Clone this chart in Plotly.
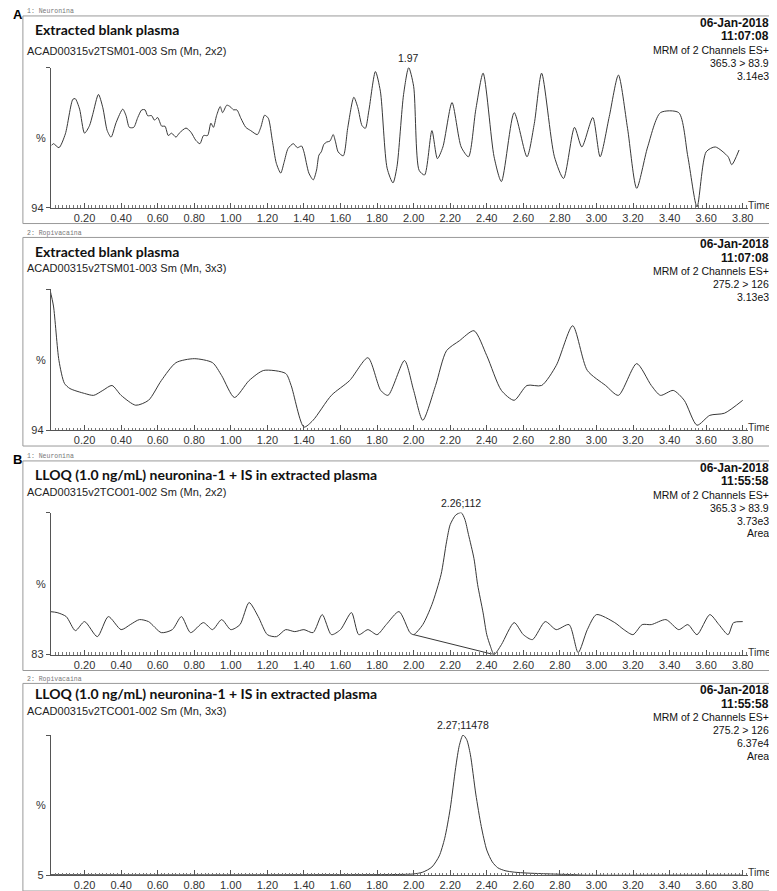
import plotly.graph_objects as go

# ---- data (time in min, intensity in % of full scale) ----
t1 = [0.02, 0.03, 0.06, 0.095, 0.136, 0.149, 0.173, 0.20, 0.227, 0.245, 0.276, 0.30, 0.324, 0.345,
      0.373, 0.409, 0.427, 0.445, 0.469, 0.491, 0.513, 0.531, 0.545, 0.567, 0.582, 0.60, 0.622,
      0.64, 0.658, 0.676, 0.70, 0.718, 0.755, 0.782, 0.809, 0.831, 0.851, 0.873, 0.891, 0.905,
      0.922, 0.942, 0.955, 0.978, 0.996, 1.015, 1.033, 1.055, 1.082, 1.109, 1.145, 1.164, 1.185,
      1.205, 1.227, 1.249, 1.273, 1.291, 1.313, 1.342, 1.364, 1.387, 1.40, 1.427, 1.451, 1.469,
      1.482, 1.495, 1.509, 1.524, 1.542, 1.56, 1.573, 1.587, 1.615, 1.64, 1.673, 1.695, 1.718,
      1.736, 1.755, 1.791, 1.818, 1.855, 1.887, 1.909, 1.945, 1.973, 2.00, 2.03, 2.06, 2.10, 2.13,
      2.16, 2.21, 2.26, 2.30, 2.34, 2.38, 2.44, 2.48, 2.55, 2.62, 2.66, 2.70, 2.77, 2.82, 2.88,
      2.92, 2.98, 3.02, 3.07, 3.12, 3.17, 3.22, 3.28, 3.35, 3.45, 3.50, 3.55, 3.60, 3.65, 3.72,
      3.74, 3.78]
i1 = [96.67, 96.74, 96.57, 97.16, 98.64, 98.67, 98.22, 97.19, 97.51, 98.00, 98.85, 98.28, 97.30, 97.02,
      97.65, 98.22, 97.94, 97.44, 97.44, 97.86, 98.19, 98.19, 97.94, 97.94, 97.75, 97.86, 97.49,
      97.49, 97.09, 97.19, 97.02, 97.19, 97.41, 97.23, 96.88, 96.74, 97.09, 97.09, 97.62, 97.44,
      97.94, 98.33, 98.07, 98.39, 98.33, 98.19, 98.19, 97.83, 97.44, 97.30, 97.13, 97.44, 97.96,
      97.83, 96.88, 95.90, 95.48, 95.93, 96.53, 96.74, 96.57, 96.64, 96.39, 95.48, 95.19, 95.61,
      96.25, 96.39, 96.71, 96.81, 96.85, 97.13, 96.81, 96.39, 96.22, 97.44, 98.73, 98.28, 97.51,
      97.40, 98.15, 99.83, 98.99, 95.69, 95.06, 95.76, 98.85, 100.00, 99.20, 95.60, 95.40, 97.30,
      96.10, 96.60, 98.50, 96.60, 96.18, 98.20, 99.76, 96.18, 95.12, 98.07, 96.18, 97.60, 99.76,
      96.18, 95.25, 97.44, 96.60, 97.86, 96.18, 97.90, 99.68, 97.40, 94.83, 96.60, 98.07, 98.07,
      96.18, 94.03, 96.39, 96.60, 96.18, 95.84, 96.47]

t2 = [0.01, 0.03, 0.06, 0.09, 0.12, 0.20, 0.25, 0.30, 0.35, 0.40, 0.48, 0.55, 0.62, 0.70, 0.80,
      0.90, 0.95, 1.02, 1.10, 1.18, 1.30, 1.33, 1.40, 1.45, 1.55, 1.65, 1.75, 1.82, 1.86, 1.95,
      2.00, 2.05, 2.12, 2.18, 2.25, 2.33, 2.40, 2.48, 2.55, 2.62, 2.70, 2.78, 2.87, 2.95, 3.05,
      3.12, 3.22, 3.30, 3.35, 3.42, 3.48, 3.55, 3.62, 3.70, 3.80]
i2 = [100.00, 99.28, 96.96, 95.99, 95.77, 95.56, 95.48, 95.69, 95.90, 95.48, 95.06, 95.27, 96.11,
      96.87, 97.04, 96.87, 96.32, 95.39, 96.11, 96.54, 96.41, 95.90, 94.13, 94.42, 95.48, 96.11,
      97.08, 95.69, 95.48, 96.96, 95.69, 94.42, 95.90, 97.38, 97.80, 98.23, 97.17, 95.69, 95.27,
      95.90, 95.90, 96.75, 98.44, 96.54, 95.90, 95.48, 96.83, 95.90, 95.48, 95.69, 95.27, 94.21,
      94.63, 94.72, 95.27]

t3 = [0.01, 0.05, 0.10, 0.15, 0.20, 0.27, 0.33, 0.40, 0.45, 0.50, 0.55, 0.62, 0.68, 0.73, 0.78,
      0.85, 0.90, 0.95, 1.00, 1.05, 1.10, 1.15, 1.20, 1.25, 1.30, 1.35, 1.40, 1.45, 1.50, 1.55,
      1.60, 1.66, 1.70, 1.75, 1.80, 1.85, 1.92, 1.98, 2.00, 2.05, 2.10, 2.15, 2.18, 2.20, 2.23,
      2.26, 2.28, 2.30, 2.33, 2.35, 2.38, 2.40, 2.42, 2.44, 2.48, 2.55, 2.60, 2.65, 2.72, 2.78,
      2.85, 2.90, 2.95, 3.00, 3.10, 3.15, 3.20, 3.25, 3.30, 3.38, 3.45, 3.50, 3.55, 3.62, 3.67,
      3.72, 3.75, 3.80]
i3 = [88.15, 88.03, 87.55, 85.87, 86.95, 85.15, 87.55, 85.99, 86.59, 87.19, 86.95, 85.63, 85.99,
      87.55, 85.63, 86.83, 85.99, 87.19, 85.99, 86.59, 89.23, 87.55, 85.39, 85.15, 85.99, 85.75,
      85.99, 85.63, 87.79, 85.39, 85.99, 88.03, 85.39, 85.99, 85.39, 86.59, 88.15, 85.63, 85.39,
      86.59, 88.99, 92.58, 96.50, 98.56, 99.70, 100.00, 99.20, 97.37, 94.50, 91.38, 88.00, 85.39,
      84.00, 83.00, 84.19, 86.83, 85.39, 84.80, 86.95, 85.99, 86.59, 83.24, 85.99, 87.79, 86.83,
      85.99, 85.39, 86.59, 86.59, 87.19, 85.99, 86.59, 85.39, 87.79, 86.59, 85.39, 86.83, 86.95]
base3_t = [2.00, 2.44]
base3_i = [85.39, 83.00]

t4 = [0.01, 0.50, 1.00, 1.50, 1.90, 2.00, 2.05, 2.10, 2.14, 2.17, 2.20, 2.23, 2.25, 2.27, 2.29,
      2.31, 2.34, 2.37, 2.40, 2.43, 2.46, 2.50, 2.55, 2.62, 2.70, 2.80, 2.88, 2.92, 3.40, 3.80]
i4 = [5.3, 5.2, 5.2, 5.3, 5.4, 5.8, 7.0, 10.5, 18.0, 30.0, 50.0, 78.0, 93.0, 100.0, 97.0,
      87.0, 60.0, 38.0, 22.0, 14.0, 10.0, 8.0, 7.0, 6.4, 6.0, 5.6, 5.3, 5.0, 5.0, 5.0]

channels = ["1: Neuronina", "2: Ropivacaina", "1: Neuronina", "2: Ropivacaina"]
titles = ["Extracted blank plasma", "Extracted blank plasma",
          "LLOQ (1.0 ng/mL) neuronina-1 + IS in extracted plasma",
          "LLOQ (1.0 ng/mL) neuronina-1 + IS in extracted plasma"]
samples = ["ACAD00315v2TSM01-003 Sm (Mn, 2x2)", "ACAD00315v2TSM01-003 Sm (Mn, 3x3)",
           "ACAD00315v2TCO01-002 Sm (Mn, 2x2)", "ACAD00315v2TCO01-002 Sm (Mn, 3x3)"]
dates = ["06-Jan-2018"] * 4
times = ["11:07:08", "11:07:08", "11:55:58", "11:55:58"]
transitions = ["365.3 > 83.9", "275.2 > 126", "365.3 > 83.9", "275.2 > 126"]
scales = ["3.14e3", "3.13e3", "3.73e3", "6.37e4"]
extra = ["", "", "Area", "Area"]
y_offsets = [94, 94, 83, 5]
peak_labels = ["1.97", "0.01", "2.26;112", "2.27;11478"]
peak_times = [1.97, 0.01, 2.26, 2.27]
panel_letters = {0: "A", 2: "B"}

series = [(t1, i1), (t2, i2), (t3, i3), (t4, i4)]

W, H = 777, 891
box_top = [8, 231, 456, 680]
box_bot = [217, 441, 667, 889]
X0, X1 = 43, 745


def py(p):
    return 1 - p / H


fig = go.Figure()
shapes = []
ann = []
font_sans = "Liberation Sans, Arial, sans-serif"
trace_col = "#383838"

for k in range(4):
    n = "" if k == 0 else str(k + 1)
    ax_top = box_top[k] + 52
    ax_bot = box_bot[k] - 16
    t, v = series[k]
    fig.add_trace(go.Scatter(x=t, y=v, mode="lines",
                             line=dict(color=trace_col, width=1, shape="spline", smoothing=0.7),
                             xaxis="x" + n, yaxis="y" + n, showlegend=False, hoverinfo="skip"))
    if k == 2:
        fig.add_trace(go.Scatter(x=base3_t, y=base3_i, mode="lines", line=dict(color=trace_col, width=1),
                                 xaxis="x3", yaxis="y3", showlegend=False, hoverinfo="skip"))
    fig.layout["xaxis" + n] = dict(
        domain=[X0 / W, X1 / W], anchor="y" + n, range=[0.015, 3.83],
        showline=True, linecolor="#555", linewidth=1, showgrid=False, zeroline=False,
        ticks="inside", ticklen=5, tickcolor="#555", tick0=0, dtick=0.2, tickformat=".2f",
        tickfont=dict(family=font_sans, size=11, color="#333"),
        minor=dict(ticks="inside", ticklen=2.5, dtick=0.02, tick0=0, tickcolor="#777"),
    )
    fig.layout["yaxis" + n] = dict(
        domain=[py(ax_bot), py(ax_top)], anchor="x" + n, range=[y_offsets[k], 100],
        showline=True, linecolor="#555", linewidth=1, showgrid=False, zeroline=False,
        ticks="outside", ticklen=4, tickcolor="#555",
        tickvals=[y_offsets[k], 100], ticktext=[str(y_offsets[k]), ""],
        tickfont=dict(family=font_sans, size=11, color="#333"),
    )
    # panel frame
    shapes.append(dict(type="rect", xref="paper", yref="paper", x0=15 / W, x1=775 / W, layer="below",
                       y0=py(box_bot[k]), y1=py(box_top[k]), line=dict(color="#999", width=1)))
    # channel name
    ann.append(dict(text=channels[k], x=17 / W, y=py(box_top[k] - 4), xref="paper", yref="paper",
                    xanchor="left", yanchor="middle", showarrow=False,
                    font=dict(family="Liberation Mono, monospace", size=6.5, color="#777")))
    ann.append(dict(text="<b>" + titles[k] + "</b>", x=25 / W, y=py([22, 245, 470, 690][k]),
                    xref="paper", yref="paper", xanchor="left", yanchor="middle", showarrow=False,
                    font=dict(family="Lato, sans-serif", size=14, color="#111")))
    ann.append(dict(text=samples[k], x=17 / W, y=py([43, 262, 487, 708][k]), xref="paper", yref="paper",
                    xanchor="left", yanchor="middle", showarrow=False,
                    font=dict(family=font_sans, size=11, color="#222")))
    right_lines = [("<b>" + dates[k] + "</b>", 12), ("<b>" + times[k] + "</b>", 12),
                   ("MRM of 2 Channels ES+", 10.5), (transitions[k], 10.5), (scales[k], 10.5)]
    if extra[k]:
        right_lines.append((extra[k], 10.5))
    offs = [7, 20.5, 34, 47, 60, 73]
    for j, (txt, sz) in enumerate(right_lines):
        ann.append(dict(text=txt, x=768 / W, y=py(box_top[k] + offs[j]), xref="paper", yref="paper",
                        xanchor="right", yanchor="middle", showarrow=False,
                        font=dict(family=font_sans, size=sz, color="#111")))
    # % label and Time label
    ann.append(dict(text="%", x=33 / W, y=py((ax_top + ax_bot) / 2), xref="paper", yref="paper",
                    xanchor="center", yanchor="middle", showarrow=False,
                    font=dict(family=font_sans, size=11, color="#333")))
    ann.append(dict(text="Time", x=770 / W, y=py(ax_bot - 3), xref="paper", yref="paper",
                    xanchor="right", yanchor="middle", showarrow=False,
                    font=dict(family=font_sans, size=10.5, color="#333")))
    # peak label
    lbl = dict(text=peak_labels[k], x=peak_times[k], y=100, xref="x" + n, yref="y" + n,
               yanchor="bottom", yshift=2, showarrow=False,
               font=dict(family=font_sans, size=10.5, color="#222"))
    if k == 1:
        lbl.update(xanchor="left", xshift=1)
    else:
        lbl.update(xanchor="center")
    ann.append(lbl)
    if k in panel_letters:
        ann.append(dict(text="<b>" + panel_letters[k] + "</b>", x=3 / W, y=py(box_top[k] - 1),
                        xref="paper", yref="paper", xanchor="left", yanchor="middle", showarrow=False,
                        font=dict(family=font_sans, size=13, color="#000")))

fig.update_layout(width=W, height=H, margin=dict(l=0, r=0, t=0, b=0),
                  paper_bgcolor="white", plot_bgcolor="white",
                  shapes=shapes, annotations=ann)
fig.write_html("out.html")
